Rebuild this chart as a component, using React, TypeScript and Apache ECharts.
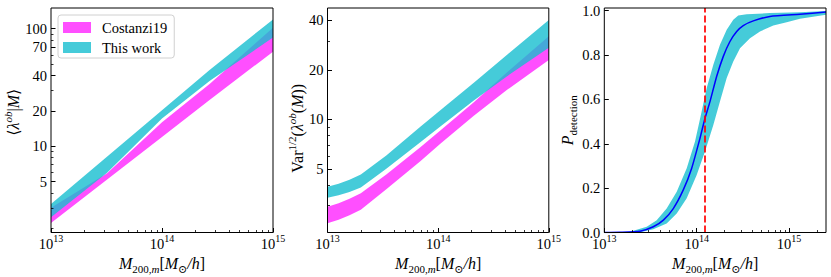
import { useEffect, useRef } from "react";
import * as echarts from "echarts";

// ---------- Data ----------
// Panel 1: <lambda^ob | M>, band edges as [mass, value]
const p1CostanziUpper = [[1e13, 3.0], [3.2e13, 5.9], [1e14, 16.0], [2.7e14, 34.1], [1e15, 102]];
const p1CostanziLower = [[1e13, 2.23], [1e14, 12.0], [2.7e14, 24.9], [1e15, 63.8]];
const p1ThisWorkUpper = [[1e13, 3.24], [1e14, 20.3], [2.7e14, 44.8], [1e15, 120]];
const p1ThisWorkLower = [[1e13, 2.49], [3.2e13, 5.95], [1e14, 17.2], [2.7e14, 36.1], [1e15, 84]];

// Panel 2: Var^{1/2}(lambda^ob(M))
const p2Mass = [1e13, 1.26e13, 1.58e13, 2e13, 3.4e13, 6.9e13, 1.04e14, 2.1e14, 4.2e14, 1e15];
const p2ThisWorkUpper = [3.89, 4.05, 4.29, 4.62, 6.03, 9.0, 11.3, 16.7, 24.7, 40.2];
const p2ThisWorkLower = [3.34, 3.45, 3.61, 3.85, 5.01, 7.24, 9.02, 13.0, 18.3, 27.2];
const p2CostanziUpper = [2.94, 3.09, 3.29, 3.55, 4.62, 6.76, 8.51, 12.7, 19.3, 32.0];
const p2CostanziLower = [2.33, 2.45, 2.61, 2.82, 3.76, 5.56, 7.08, 10.5, 15.1, 22.9];

// Panel 3: P_detection
const p3Center = [
  [1e13, 0.0], [1.48e13, 0.001], [2.44e13, 0.006], [3.39e13, 0.026], [4.36e13, 0.056],
  [5.58e13, 0.108], [7.16e13, 0.192], [8.83e13, 0.29], [1.086e14, 0.425], [1.23e14, 0.515],
  [1.393e14, 0.59], [1.644e14, 0.703], [1.941e14, 0.794], [2.291e14, 0.861], [2.71e14, 0.906],
  [3.192e14, 0.933], [4.102e14, 0.954], [6.209e14, 0.974], [1.312e15, 0.984], [2.51e15, 0.9935],
];
const p3Upper = [
  [1e13, 0.0], [1.9e13, 0.003], [2.88e13, 0.0256], [3.69e13, 0.0557], [4.73e13, 0.108],
  [6.08e13, 0.184], [7.8e13, 0.29], [9.59e13, 0.41], [1.132e14, 0.545], [1.282e14, 0.65],
  [1.514e14, 0.756], [1.786e14, 0.846], [2.113e14, 0.914], [2.489e14, 0.959], [2.818e14, 0.978],
  [3.475e14, 0.984], [6.209e14, 0.989], [1.312e15, 0.993], [2.51e15, 0.998],
];
const p3Lower = [
  [1e13, 0.0], [2.44e13, 0.0008], [3.39e13, 0.015], [4.73e13, 0.0406], [6.08e13, 0.0857],
  [7.8e13, 0.154], [1e14, 0.259], [1.23e14, 0.365], [1.514e14, 0.485], [1.786e14, 0.59],
  [2.113e14, 0.696], [2.489e14, 0.771], [2.944e14, 0.831], [3.776e14, 0.876], [4.842e14, 0.906],
  [6.745e14, 0.933], [9.419e14, 0.948], [1.312e15, 0.963], [2.51e15, 0.982],
];
const p3Threshold = 1.23e14;

// Axis ranges and tick labels
const p1XRange = [1e13, 1e15];
const p2XRange = [1e13, 1e15];
const p3XRange = [1e13, 2.51e15];
const p1YRange = [1.85, 150];
const p2YRange = [2.05, 47.5];
const p3YRange = [0, 1.012];
const p1YTicks = [5, 10, 20, 40, 70, 100];
const p2YTicks = [5, 10, 20, 40];
const p3YTicks = [0, 0.2, 0.4, 0.6, 0.8, 1.0];
const legendNames = ["Costanzi19", "This work"];

// ---------- Styles ----------
const FONT = "'Liberation Serif', 'DejaVu Serif', serif";
const MAGENTA = "rgba(255, 0, 255, 0.69)";
const CYAN = "rgba(23, 190, 207, 0.8)";

const tickRich = {
  b: { fontFamily: FONT, fontSize: 14.5, lineHeight: 20, color: "#000" },
  s: { fontFamily: FONT, fontSize: 10, lineHeight: 10, verticalAlign: "top", color: "#000" },
};
const titleRich = {
  n: { fontFamily: FONT, fontSize: 16, lineHeight: 21, color: "#000" },
  i: { fontFamily: FONT, fontSize: 16, lineHeight: 21, fontStyle: "italic", color: "#000" },
  sup: { fontFamily: FONT, fontSize: 11, lineHeight: 11, verticalAlign: "top", color: "#000" },
  isup: { fontFamily: FONT, fontSize: 11, lineHeight: 11, verticalAlign: "top", fontStyle: "italic", color: "#000" },
  sub: { fontFamily: FONT, fontSize: 11, lineHeight: 11, verticalAlign: "bottom", color: "#000" },
  isub: { fontFamily: FONT, fontSize: 11, lineHeight: 11, verticalAlign: "bottom", fontStyle: "italic", color: "#000" },
};

const X_NAME = "{i|M}{sub|200,}{isub|m}{n|[}{i|M}{sub|⊙}{i|/h}{n|]}";

function logMinors(lmin: number, lmax: number) {
  const out: number[] = [];
  for (let n = Math.floor(lmin); n <= Math.ceil(lmax); n++) {
    for (let k = 2; k <= 9; k++) {
      const v = n + Math.log10(k);
      if (v > lmin + 1e-9 && v < lmax - 1e-9) out.push(v);
    }
  }
  return out;
}

function buildOption() {
  const grids = [
    { left: 51, top: 8, width: 222, height: 224.5 },
    { left: 327.5, top: 8, width: 221.3, height: 224.5 },
    { left: 604.3, top: 8, width: 221.7, height: 224.5 },
  ].map((g) => ({
    ...g,
    show: true,
    z: 10,
    borderColor: "#000",
    borderWidth: 1,
    backgroundColor: "rgba(0,0,0,0)",
    containLabel: false,
    outerBoundsMode: "none",
  }));

  const xAxes: any[] = [];
  const yAxes: any[] = [];

  const addX = (gi: number, range: number[]) => {
    const idx = xAxes.length;
    xAxes.push({ type: "log", gridIndex: gi, min: range[0], max: range[1], logBase: 10, show: false });
    const lmin = Math.log10(range[0]);
    const lmax = Math.log10(range[1]);
    const majors: number[] = [];
    for (let n = Math.ceil(lmin - 1e-9); n <= lmax + 1e-9; n++) majors.push(n);
    xAxes.push({
      type: "value", gridIndex: gi, min: lmin, max: lmax, position: "bottom", z: 10,
      axisLine: { show: false }, splitLine: { show: false },
      axisTick: { show: true, inside: true, length: 4.5, customValues: majors, lineStyle: { color: "#000", width: 1 } },
      axisLabel: {
        show: true, customValues: majors, margin: 1,
        formatter: (v: number) => `{b|10}{s|${Math.round(v)}}`, rich: tickRich,
      },
      name: X_NAME, nameLocation: "middle", nameGap: 9, nameTextStyle: { rich: titleRich },
    });
    xAxes.push({
      type: "value", gridIndex: gi, min: lmin, max: lmax, position: "bottom", z: 10,
      axisLine: { show: false }, splitLine: { show: false },
      axisTick: { show: true, inside: true, length: 2.5, customValues: logMinors(lmin, lmax), lineStyle: { color: "#000", width: 0.8 } },
      axisLabel: { show: false },
    });
    return idx;
  };

  const addYLog = (gi: number, range: number[], ticks: number[], name: string, nameGap: number, namePadding: number[]) => {
    const idx = yAxes.length;
    yAxes.push({ type: "log", gridIndex: gi, min: range[0], max: range[1], logBase: 10, show: false });
    const lmin = Math.log10(range[0]);
    const lmax = Math.log10(range[1]);
    const majors = ticks.map((t) => Math.log10(t));
    const minors = logMinors(lmin, lmax).filter((m) => !majors.some((t) => Math.abs(t - m) < 1e-6));
    yAxes.push({
      type: "value", gridIndex: gi, min: lmin, max: lmax, position: "left", z: 10,
      axisLine: { show: false }, splitLine: { show: false },
      axisTick: { show: true, inside: true, length: 4.5, customValues: majors, lineStyle: { color: "#000", width: 1 } },
      axisLabel: {
        show: true, customValues: majors, margin: 4, color: "#000", fontFamily: FONT, fontSize: 14.5,
        formatter: (v: number) => {
          const t = ticks.find((tt) => Math.abs(Math.log10(tt) - v) < 1e-6);
          return t === undefined ? "" : String(t);
        },
      },
      name, nameLocation: "middle", nameRotate: 90, nameGap,
      nameTextStyle: { rich: titleRich, padding: namePadding },
    });
    yAxes.push({
      type: "value", gridIndex: gi, min: lmin, max: lmax, position: "left", z: 10,
      axisLine: { show: false }, splitLine: { show: false },
      axisTick: { show: true, inside: true, length: 2.5, customValues: minors, lineStyle: { color: "#000", width: 0.8 } },
      axisLabel: { show: false },
    });
    return idx;
  };

  const p1x = addX(0, p1XRange);
  const p2x = addX(1, p2XRange);
  const p3x = addX(2, p3XRange);
  const p1y = addYLog(0, p1YRange, p1YTicks, "{n|⟨}{i|λ}{isup|ob}{n||}{i|M}{n|⟩}", 25, [0, 0, 0, 16]);
  const p2y = addYLog(1, p2YRange, p2YTicks, "{n|Var}{sup|1/2}{n|(}{i|λ}{isup|ob}{n|(}{i|M}{n|))}", 20, [0, 16, 0, 0]);
  const p3y = yAxes.length;
  yAxes.push({
    type: "value", gridIndex: 2, min: p3YRange[0], max: p3YRange[1], position: "left", z: 10,
    axisLine: { show: false }, splitLine: { show: false },
    axisTick: { show: true, inside: true, length: 4.5, customValues: p3YTicks, lineStyle: { color: "#000", width: 1 } },
    axisLabel: {
      show: true, customValues: p3YTicks, margin: 4, color: "#000", fontFamily: FONT, fontSize: 14.5,
      formatter: (v: number) => v.toFixed(1),
    },
    name: "{i|P}{sub|detection}", nameLocation: "middle", nameRotate: 90, nameGap: 26, nameTextStyle: { rich: titleRich },
  });

  const band = (name: string, upper: number[][], lower: number[][], color: string, xi: number, yi: number) => ({
    type: "custom",
    name,
    xAxisIndex: xi,
    yAxisIndex: yi,
    clip: true,
    silent: true,
    z: 2,
    itemStyle: { color },
    data: [upper[0]],
    renderItem: (_params: any, api: any) => {
      const pts = upper.map((p) => api.coord(p)).concat(lower.slice().reverse().map((p) => api.coord(p)));
      return { type: "polygon", shape: { points: pts }, style: { fill: color, stroke: null, lineWidth: 0 } };
    },
  });

  const zip = (xs: number[], ys: number[]) => xs.map((x, i) => [x, ys[i]]);

  const series: any[] = [
    band(legendNames[0], p1CostanziUpper, p1CostanziLower, MAGENTA, p1x, p1y),
    band(legendNames[1], p1ThisWorkUpper, p1ThisWorkLower, CYAN, p1x, p1y),
    band(legendNames[0], zip(p2Mass, p2CostanziUpper), zip(p2Mass, p2CostanziLower), MAGENTA, p2x, p2y),
    band(legendNames[1], zip(p2Mass, p2ThisWorkUpper), zip(p2Mass, p2ThisWorkLower), CYAN, p2x, p2y),
    band(legendNames[1], p3Upper, p3Lower, CYAN, p3x, p3y),
    {
      type: "line",
      name: "median",
      xAxisIndex: p3x,
      yAxisIndex: p3y,
      data: p3Center,
      showSymbol: false,
      symbol: "none",
      silent: true,
      z: 3,
      smooth: 0.2,
      lineStyle: { color: "#0000ff", width: 1.5 },
      markLine: {
        silent: true,
        symbol: "none",
        label: { show: false },
        lineStyle: { color: "rgba(255,0,0,0.85)", width: 2, type: [7, 3] },
        data: [{ xAxis: p3Threshold }],
      },
    },
  ];

  return {
    animation: false,
    backgroundColor: "#fff",
    textStyle: { fontFamily: FONT },
    grid: grids,
    xAxis: xAxes,
    yAxis: yAxes,
    legend: {
      data: [
        { name: legendNames[0], itemStyle: { color: MAGENTA } },
        { name: legendNames[1], itemStyle: { color: CYAN } },
      ],
      orient: "vertical",
      left: 58,
      top: 15,
      icon: "rect",
      itemWidth: 28,
      itemHeight: 11,
      itemGap: 5,
      padding: [5, 7, 3, 5],
      borderColor: "#d0d0d0",
      borderWidth: 1,
      borderRadius: 3,
      backgroundColor: "rgba(255,255,255,0.8)",
      selectedMode: false,
      textStyle: { fontFamily: FONT, fontSize: 14.5, lineHeight: 14, color: "#000", padding: [0, 0, 0, 6] },
    },
    series,
  };
}

export default function App() {
  const ref = useRef<HTMLDivElement>(null);
  useEffect(() => {
    const chart = echarts.init(ref.current!, null, { renderer: "svg" });
    chart.setOption(buildOption() as any);
    return () => chart.dispose();
  }, []);
  return <div ref={ref} style={{ position: "fixed", left: 0, top: 0, width: 831, height: 277 }} />;
}
